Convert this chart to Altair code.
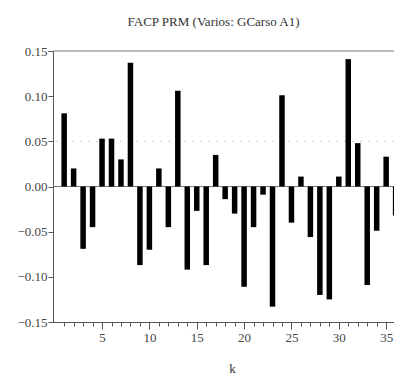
import altair as alt
import pandas as pd

lags = list(range(1, 37))
facp = [0.081, 0.020, -0.069, -0.045, 0.053, 0.053, 0.030, 0.137, -0.087, -0.070,
        0.020, -0.045, 0.106, -0.092, -0.027, -0.087, 0.035, -0.014, -0.030, -0.111,
        -0.045, -0.009, -0.133, 0.101, -0.040, 0.011, -0.056, -0.120, -0.125, 0.011,
        0.141, 0.048, -0.109, -0.049, 0.033, -0.032]
band = [0.05]
x_major = [5, 10, 15, 20, 25, 30, 35]
y_ticks = [-0.15, -0.10, -0.05, 0.00, 0.05, 0.10, 0.15]

df = pd.DataFrame({"k": lags, "facp": facp})
FONT = "Liberation Serif"
xscale = alt.Scale(domain=[0.35, 35.3], nice=False, zero=False)
yscale = alt.Scale(domain=[-0.15, 0.15], nice=False)

bars = alt.Chart(df).mark_bar(color="black", size=5.5, clip=True).encode(
    x=alt.X("k:Q", scale=xscale,
            axis=alt.Axis(values=lags, labels=False, tickSize=4, title=None,
                          domainColor="#555", tickColor="#555", grid=False)),
    y=alt.Y("facp:Q", scale=yscale,
            axis=alt.Axis(values=y_ticks, format=".2f", tickSize=5, title=None,
                          labelFont=FONT, labelFontSize=13, labelColor="#444",
                          domainColor="#555", tickColor="#555", grid=False,
                          labelPadding=1)),
)

major = alt.Chart(pd.DataFrame({"k": x_major})).mark_text().encode(
    x=alt.X("k:Q", scale=xscale,
            axis=alt.Axis(values=x_major, tickSize=7, title="k", labelFont=FONT,
                          labelFontSize=13, labelColor="#444", titleFont=FONT,
                          titleFontSize=13, titleFontWeight="normal", titleColor="#333",
                          titlePadding=18, titleX=179, domainColor="#555", tickColor="#555",
                          labelPadding=2, grid=False, orient="bottom")),
    text=alt.value(""),
)

zero = alt.Chart(pd.DataFrame({"y": [0.0]})).mark_rule(color="#777", strokeWidth=1).encode(
    y=alt.Y("y:Q", scale=yscale)
)
top = alt.Chart(pd.DataFrame({"y": [0.15]})).mark_rule(color="#777", strokeWidth=1).encode(
    y=alt.Y("y:Q", scale=yscale)
)
conf = alt.Chart(pd.DataFrame({"y": band})).mark_rule(
    color="#ccc", strokeWidth=1, strokeDash=[2, 6]).encode(
    y=alt.Y("y:Q", scale=yscale)
)

chart = alt.layer(conf, zero, top, bars, major).resolve_axis(x="independent").properties(
    width=341, height=271,
    title=alt.TitleParams("FACP PRM (Varios: GCarso A1)", font=FONT, fontSize=13,
                          fontWeight="normal", color="#333", offset=16, anchor="middle",
                          dx=-10),
    autosize=alt.AutoSizeParams(type="none"),
    padding={"left": 45, "top": 43, "right": 0, "bottom": 56},
).configure_view(stroke=None)

chart.save("out.html", embed_options={"renderer": "svg", "actions": False})
